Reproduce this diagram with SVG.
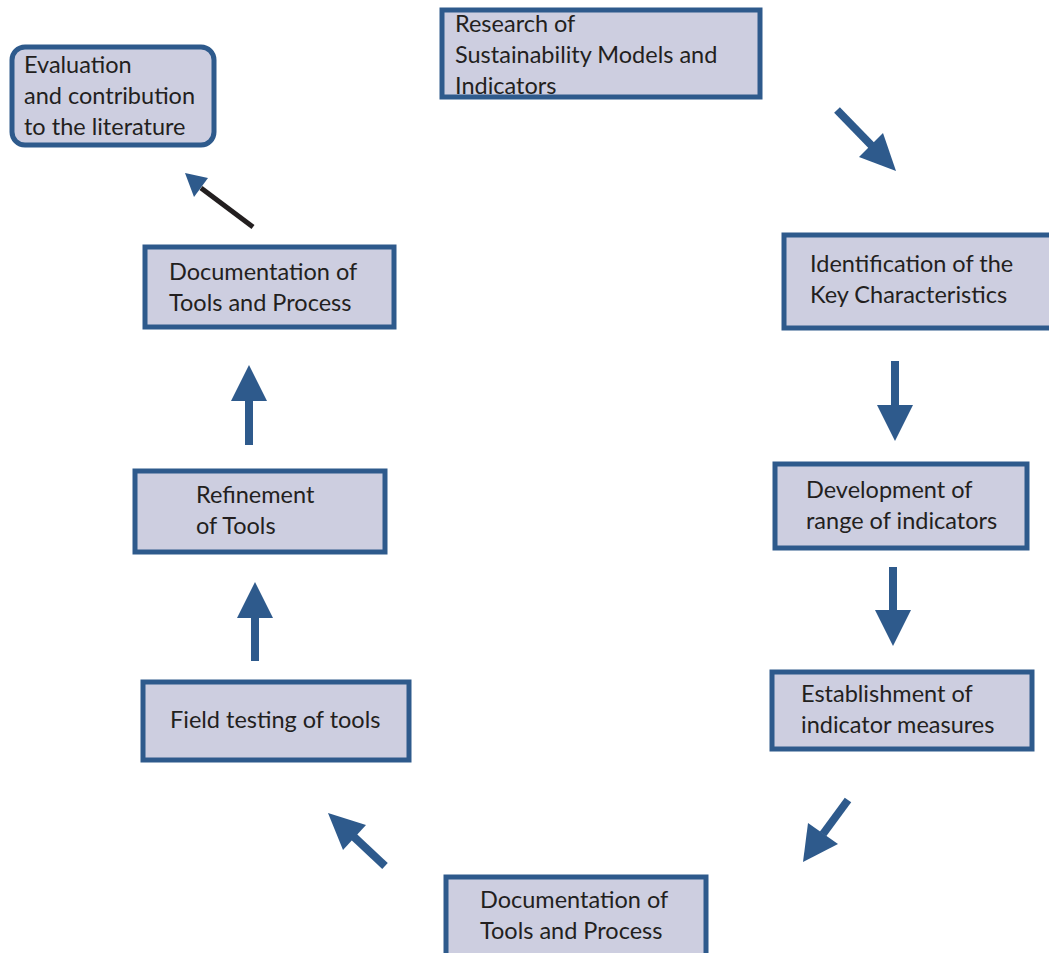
<svg xmlns="http://www.w3.org/2000/svg" width="1049" height="953" viewBox="0 0 1049 953">
<style>
.box{fill:#cdcee0;stroke:#2e5a8c;stroke-width:5}
.t{font-family:"Lato","Liberation Sans",sans-serif;font-size:23.5px;fill:#231f20}
.sh{stroke:#2e5a8c;stroke-width:8;fill:none}
.hd{fill:#2e5a8c}
</style>
<rect width="1049" height="953" fill="#ffffff"/>
<g id="n-evaluation">
<rect class="box" x="12" y="47" width="202" height="98" rx="13"/>
<text class="t" x="24" y="73">Evaluation</text>
<text class="t" x="24" y="104">and contribution</text>
<text class="t" x="24" y="135">to the literature</text>
</g>
<g id="n-research">
<rect class="box" x="442" y="10" width="318" height="87"/>
<text class="t" x="455" y="32">Research of</text>
<text class="t" x="455" y="63">Sustainability Models and</text>
<text class="t" x="455" y="94">Indicators</text>
</g>
<g id="n-identification">
<rect class="box" x="784" y="235" width="270" height="93"/>
<text class="t" x="810" y="272">Identification of the</text>
<text class="t" x="810" y="303">Key Characteristics</text>
</g>
<g id="n-development">
<rect class="box" x="775" y="464" width="252" height="84"/>
<text class="t" x="806" y="498">Development of</text>
<text class="t" x="806" y="529">range of indicators</text>
</g>
<g id="n-establishment">
<rect class="box" x="772" y="672" width="260" height="77"/>
<text class="t" x="801" y="702">Establishment of</text>
<text class="t" x="801" y="733">indicator measures</text>
</g>
<g id="n-doc-bottom">
<rect class="box" x="446" y="877" width="260" height="85"/>
<text class="t" x="480" y="908">Documentation of</text>
<text class="t" x="480" y="939">Tools and Process</text>
</g>
<g id="n-field">
<rect class="box" x="143" y="682" width="266" height="78"/>
<text class="t" x="170" y="728">Field testing of tools</text>
</g>
<g id="n-refinement">
<rect class="box" x="135" y="471" width="250" height="81"/>
<text class="t" x="196" y="503">Refinement</text>
<text class="t" x="196" y="534">of Tools</text>
</g>
<g id="n-doc-top">
<rect class="box" x="145" y="247" width="249" height="80"/>
<text class="t" x="169" y="280">Documentation of</text>
<text class="t" x="169" y="311">Tools and Process</text>
</g>
<g id="connectors">
<line class="sh" x1="837" y1="110" x2="872" y2="146"/>
<polygon class="hd" points="896,171 859,157 883,133"/>
<line class="sh" x1="895" y1="361" x2="895" y2="407"/>
<polygon class="hd" points="877,405 913,405 895,441"/>
<line class="sh" x1="893" y1="567" x2="893" y2="612"/>
<polygon class="hd" points="875,610 911,610 893,646"/>
<line class="sh" x1="848" y1="800" x2="823" y2="834"/>
<polygon class="hd" points="803,862 808,823 838,844"/>
<line class="sh" x1="385" y1="866" x2="353" y2="836"/>
<polygon class="hd" points="328,813 366,825 343,850"/>
<line class="sh" x1="255" y1="661" x2="255" y2="615"/>
<polygon class="hd" points="237,618 273,618 255,582"/>
<line class="sh" x1="249" y1="445" x2="249" y2="398"/>
<polygon class="hd" points="231,401 267,401 249,365"/>
<line x1="253" y1="227" x2="201" y2="188" stroke="#231f20" stroke-width="5"/>
<polygon class="hd" points="185,173 208,178 194,197"/>
</g>
</svg>
